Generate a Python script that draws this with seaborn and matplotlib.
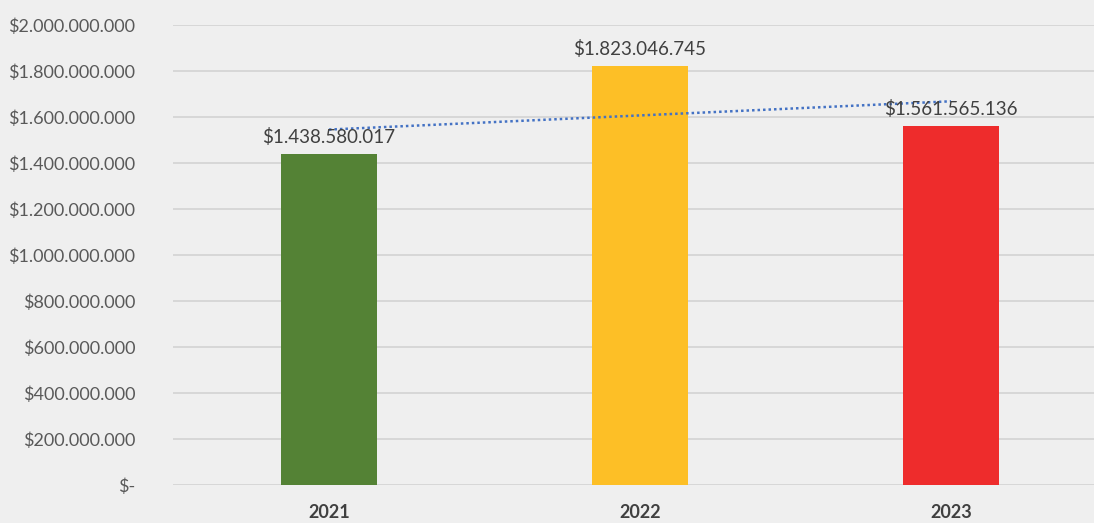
import numpy as np
import pandas as pd
import matplotlib.pyplot as plt
import seaborn as sns
from matplotlib.ticker import FuncFormatter

years = ['2021', '2022', '2023']
amounts = [1438580017, 1823046745, 1561565136]
bar_colors = ['#548235', '#FDBF26', '#EE2C2C']


def money(v, pos=None):
    if v == 0:
        return '$-'
    return '$' + '{:,.0f}'.format(v).replace(',', '.')


def main():
    sns.set_theme(style='white')
    plt.rcParams['font.family'] = ['Lato', 'DejaVu Sans']

    df = pd.DataFrame({'year': years, 'amount': amounts})

    fig = plt.figure(figsize=(10.94, 5.23), dpi=100)
    fig.patch.set_facecolor('#efefef')
    ax = fig.add_axes([0.158, 0.0727, 0.842, 0.879])
    ax.set_facecolor('#efefef')

    sns.barplot(data=df, x='year', y='amount', hue='year',
                palette=dict(zip(years, bar_colors)), width=0.31,
                saturation=1, linewidth=0, legend=False, ax=ax, zorder=3)

    # linear trend line, like the excel one
    xs = np.arange(len(years))
    k, b = np.polyfit(xs, amounts, 1)
    ax.plot(xs, k * xs + b, linestyle=(0, (1, 1.2)), color='#4472C4',
            linewidth=1.8, zorder=4)

    for i, v in enumerate(amounts):
        ax.text(i, v + 35e6, money(v), ha='center', va='bottom',
                fontsize=13.5, color='#404040', zorder=5)

    ax.set_ylim(0, 2e9)
    ax.set_xlim(-0.502, 2.46)
    ax.set_yticks(np.arange(0, 2.01e9, 2e8))
    ax.yaxis.set_major_formatter(FuncFormatter(money))
    ax.grid(axis='y', color='#d5d5d5', linewidth=1.3, zorder=0)
    ax.set_axisbelow(True)
    for s in ax.spines.values():
        s.set_visible(False)

    ax.set_xlabel('')
    ax.set_ylabel('')
    ax.tick_params(axis='y', length=0, pad=27, labelsize=13, labelcolor='#595959')
    ax.tick_params(axis='x', length=0, pad=14, labelsize=13, labelcolor='#404040')
    for lbl in ax.get_xticklabels():
        lbl.set_fontweight('bold')

    plt.savefig('out.png', dpi=100, facecolor=fig.get_facecolor())


if __name__ == "__main__":
    main()
